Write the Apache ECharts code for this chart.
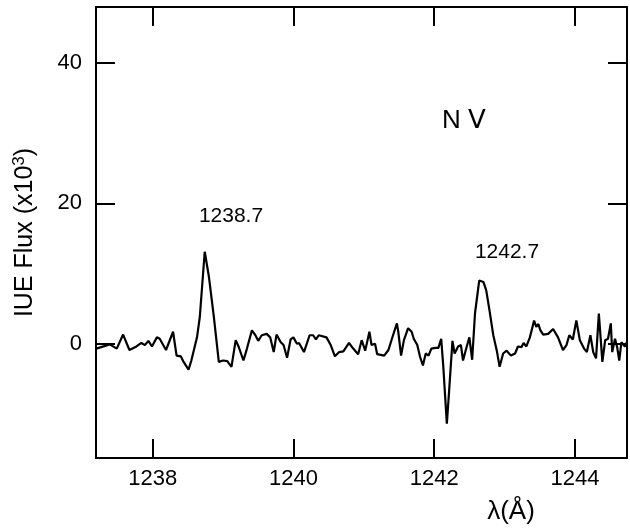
<!DOCTYPE html>
<html>
<head>
<meta charset="utf-8">
<script src="https://cdn.jsdelivr.net/npm/echarts@6/dist/echarts.min.js"></script>
<style>
html,body{margin:0;padding:0;background:#fff;}
#c{width:630px;height:529px;}
</style>
</head>
<body>
<div id="c"></div>
<script>
// Wavelength (Å) and IUE flux (x10^3)
var wavelength = [1237.20,1237.39,1237.49,1237.58,1237.67,1237.77,1237.84,1237.89,1237.94,1237.99,
  1238.06,1238.10,1238.19,1238.29,1238.34,1238.40,1238.44,1238.51,1238.55,1238.63,
  1238.67,1238.74,1238.80,1238.87,1238.94,1239.00,1239.06,1239.12,1239.18,1239.22,
  1239.29,1239.34,1239.41,1239.46,1239.50,1239.55,1239.62,1239.67,1239.72,1239.76,
  1239.82,1239.86,1239.91,1239.96,1240.00,1240.05,1240.08,1240.15,1240.23,1240.28,
  1240.32,1240.36,1240.47,1240.53,1240.59,1240.65,1240.71,1240.79,1240.85,1240.92,
  1240.97,1241.02,1241.08,1241.11,1241.16,1241.19,1241.29,1241.35,1241.40,1241.47,
  1241.49,1241.53,1241.57,1241.63,1241.68,1241.71,1241.76,1241.80,1241.84,1241.88,
  1241.92,1241.96,1242.02,1242.06,1242.10,1242.13,1242.18,1242.21,1242.26,1242.29,
  1242.34,1242.38,1242.41,1242.46,1242.50,1242.54,1242.58,1242.64,1242.70,1242.74,
  1242.79,1242.84,1242.89,1242.93,1242.98,1243.03,1243.09,1243.15,1243.19,1243.24,
  1243.27,1243.31,1243.36,1243.42,1243.45,1243.48,1243.51,1243.55,1243.62,1243.69,
  1243.76,1243.83,1243.88,1243.92,1243.97,1244.02,1244.07,1244.13,1244.17,1244.22,
  1244.26,1244.30,1244.34,1244.39,1244.43,1244.47,1244.51,1244.53,1244.57,1244.60,
  1244.63,1244.66,1244.71,1244.74];
var flux = [-0.7,-0.1,-0.7,1.3,-0.9,-0.4,0.1,-0.2,0.4,-0.4,
  0.9,0.7,-0.9,1.7,-1.7,-1.8,-2.6,-3.7,-2.4,0.9,
  3.8,13.1,9.5,3.8,-2.6,-2.4,-2.5,-3.3,0.5,-0.4,
  -2.4,-0.7,1.9,1.2,0.4,1.2,1.4,0.9,-1.2,1.3,
  0.2,-0.2,-2.0,0.6,0.9,0.0,0.1,-1.2,1.2,1.2,
  0.6,1.2,0.9,-0.2,-1.8,-1.2,-1.1,0.1,-0.7,-1.5,
  0.5,-1.0,1.7,-0.2,0.0,-1.5,-1.7,-0.9,0.7,2.9,
  1.7,-1.7,0.5,2.2,1.7,0.7,-0.2,-1.9,-3.1,-1.4,
  -1.7,-0.7,-0.6,-0.6,0.7,-3.3,-11.4,-7.1,0.4,-1.4,
  -0.4,-0.2,-2.4,-0.5,0.9,-2.3,4.3,9.0,8.8,7.6,
  4.5,1.2,-1.0,-3.3,-1.4,-1.0,-1.7,-1.4,-0.4,-0.5,
  0.1,-0.4,0.9,3.3,2.4,2.8,1.9,1.3,1.4,2.1,
  0.9,-0.9,-0.2,1.2,0.6,3.3,0.5,-0.7,-1.2,1.2,
  -1.2,-2.1,4.3,-2.6,0.5,0.7,2.9,-1.2,0.7,-0.5,
  -2.4,0.2,-0.4,0.3];
var xTicks = [1238, 1240, 1242, 1244];
var yTicks = [0, 20, 40];
var lineLabels = ['1238.7', '1242.7'];
var ionLabel = 'N \u2164';

var xMin = 1237.195, xMax = 1244.74, yMin = -16.3, yMax = 48;
var numFont = "'Liberation Sans',sans-serif";
var txtFont = "'Liberation Sans',sans-serif";

var pts = wavelength.map(function (w, i) { return [w, flux[i]]; });

function xAxis(pos, showLabels) {
  return {
    type: 'value', position: pos, min: xMin, max: xMax,
    axisLine: { show: true, onZero: false, lineStyle: { color: '#000', width: 2 } },
    axisTick: { show: true, inside: true, length: 19, customValues: xTicks, lineStyle: { color: '#000', width: 2 } },
    axisLabel: { show: showLabels, customValues: xTicks, margin: 10, color: '#000', fontSize: 22, fontFamily: numFont,
      formatter: function (v) { return String(v); } },
    splitLine: { show: false }
  };
}
function yAxis(pos, showLabels) {
  return {
    type: 'value', position: pos, min: yMin, max: yMax,
    axisLine: { show: true, onZero: false, lineStyle: { color: '#000', width: 2 } },
    axisTick: { show: true, inside: true, length: 19, customValues: yTicks, lineStyle: { color: '#000', width: 2 } },
    axisLabel: { show: showLabels, customValues: yTicks, margin: 14, color: '#000', fontSize: 22, fontFamily: numFont,
      formatter: function (v) { return String(v); } },
    splitLine: { show: false }
  };
}

var yl = yAxis('left', true);
yl.name = 'IUE Flux (x10{sup|3})';
yl.nameLocation = 'middle';
yl.nameGap = 56;
yl.nameTextStyle = { color: '#000', fontSize: 25, fontFamily: txtFont,
  rich: { sup: { fontSize: 17, fontFamily: txtFont, color: '#000', padding: [0, 0, 12, 0] } } };

var chart = echarts.init(document.getElementById('c'), null, { renderer: 'canvas' });
chart.setOption({
  backgroundColor: '#fff',
  animation: false,
  grid: { left: 96, right: 3, top: 7, bottom: 71, containLabel: false },
  xAxis: [xAxis('bottom', true), xAxis('top', false)],
  yAxis: [yl, yAxis('right', false)],
  series: [{
    type: 'line', data: pts, showSymbol: false, smooth: false,
    lineStyle: { color: '#000', width: 2.2 }
  }],
  graphic: [
    { type: 'text', x: 231, y: 216, style: { text: lineLabels[0], fill: '#000', font: "21px " + numFont, textAlign: 'center', textVerticalAlign: 'middle' } },
    { type: 'text', x: 507, y: 252, style: { text: lineLabels[1], fill: '#000', font: "21px " + numFont, textAlign: 'center', textVerticalAlign: 'middle' } },
    { type: 'text', x: 464, y: 121, style: { text: ionLabel, fill: '#000', font: "26px " + txtFont, textAlign: 'center', textVerticalAlign: 'middle' } },
    { type: 'text', x: 511, y: 512, style: { text: '\u03bb(\u00c5)', fill: '#000', font: "26px " + txtFont, textAlign: 'center', textVerticalAlign: 'middle' } }
  ]
});
</script>
</body>
</html>
